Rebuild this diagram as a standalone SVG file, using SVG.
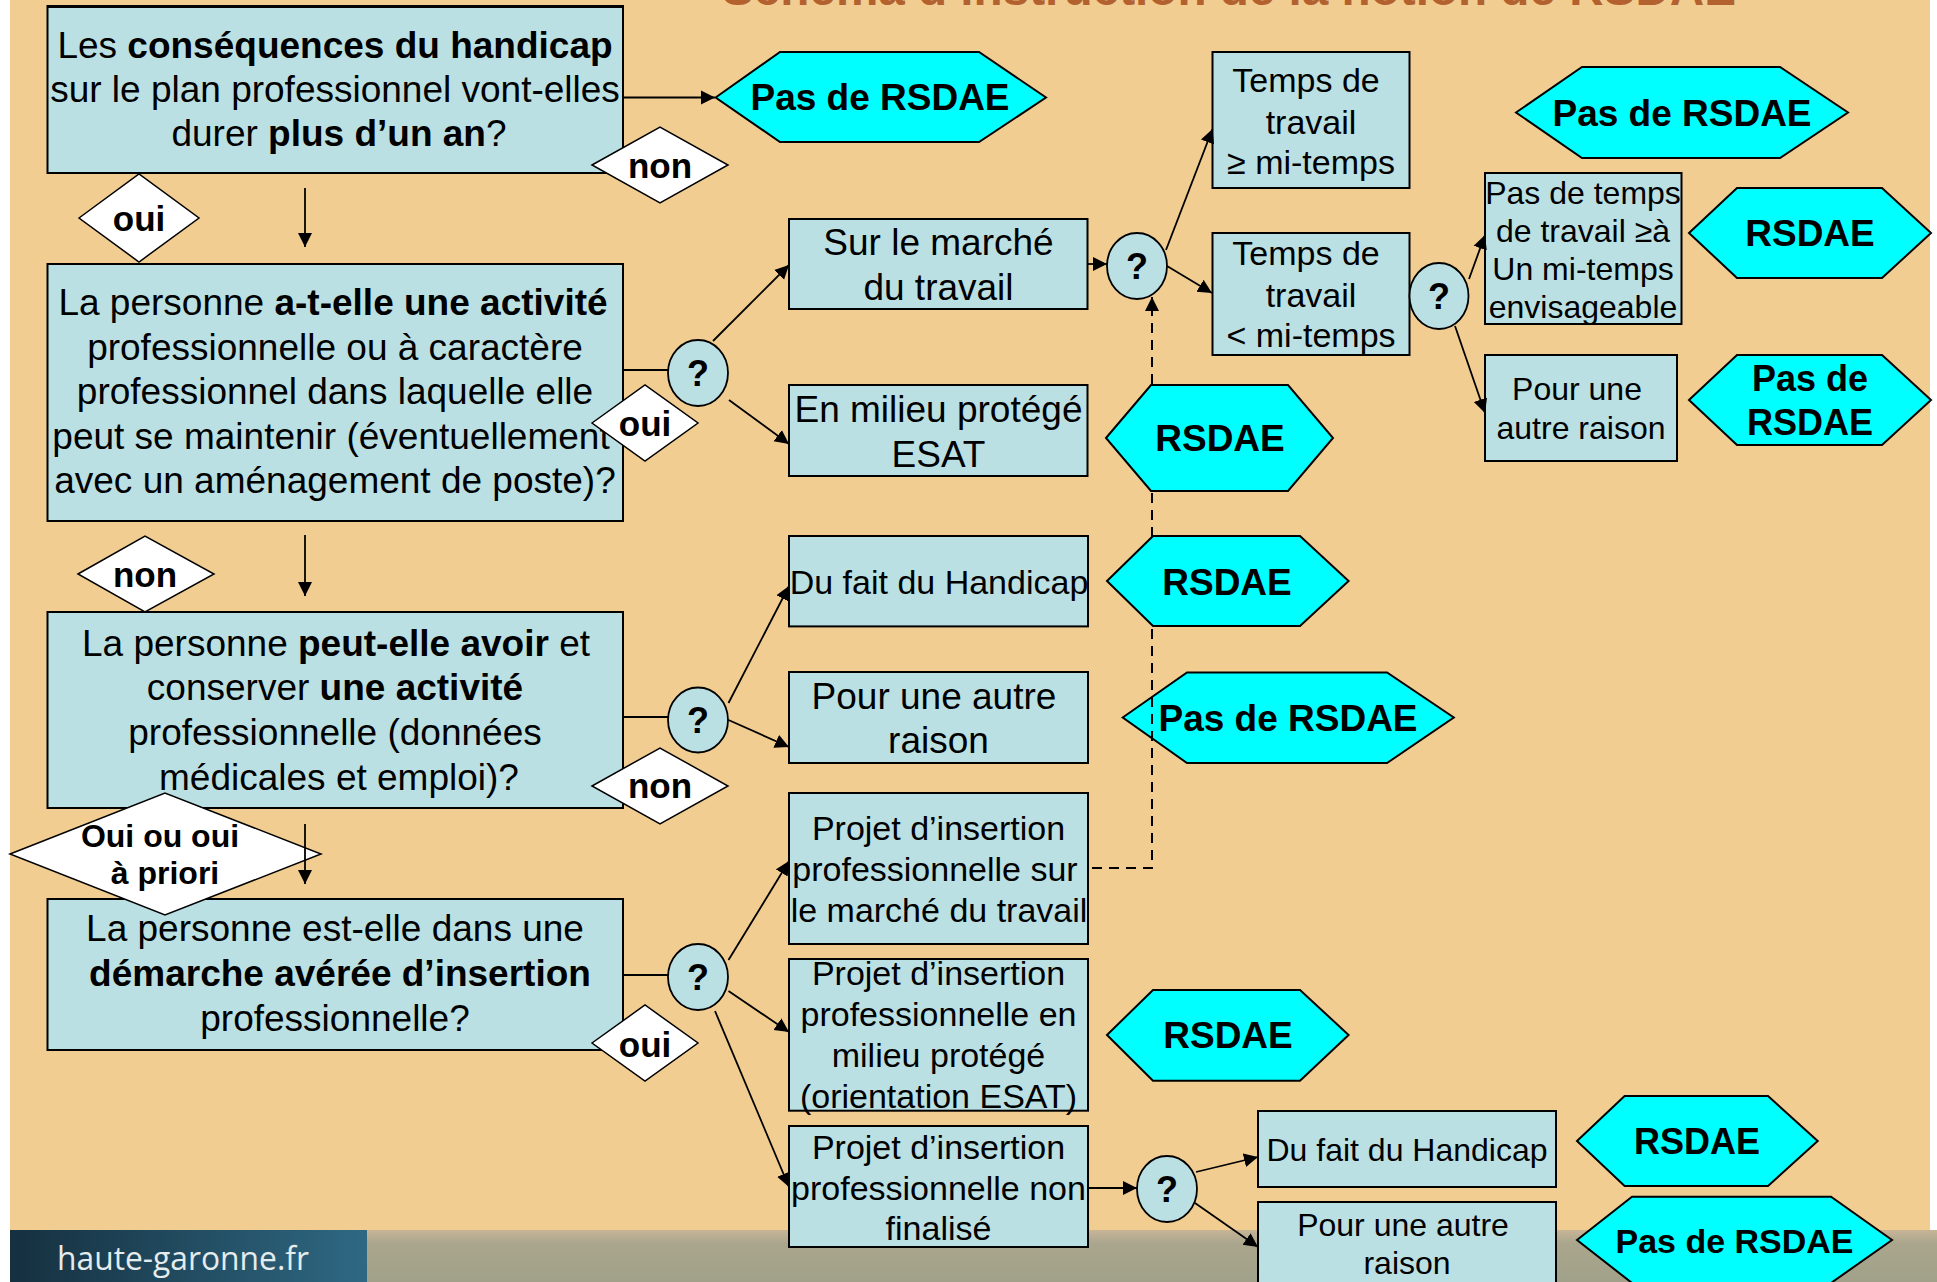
<svg xmlns="http://www.w3.org/2000/svg" width="1937" height="1282" viewBox="0 0 1937 1282">
<defs>
<style>
.bx{fill:#BBE0E3;stroke:#000;stroke-width:2}
.hx{fill:#00FFFF;stroke:#000;stroke-width:2}
.dm{fill:#fff;stroke:#000;stroke-width:1.5}
.ci{fill:#BBE0E3;stroke:#000;stroke-width:1.8}
text{font-family:"Liberation Sans",Arial,sans-serif;fill:#000;text-anchor:middle}
.f37{font-size:37px}
.f34{font-size:34px}
.f32{font-size:32px}
.b{font-weight:bold}
.hb{font-weight:bold;font-size:37px}
.lb{font-weight:bold;font-size:35px}
.q{font-weight:bold;font-size:36px}
.ln{fill:none;stroke:#000;stroke-width:1.8}
.ar{marker-end:url(#ah)}
.ds{fill:none;stroke:#000;stroke-width:2;stroke-dasharray:10 7}
</style>
<marker id="ah" markerUnits="userSpaceOnUse" markerWidth="16" markerHeight="16" refX="14" refY="7.5" orient="auto">
<path d="M0,0.5 L14,7.5 L0,14.5 z" fill="#000"/>
</marker>
<linearGradient id="band" x1="0" y1="0" x2="0" y2="1">
<stop offset="0" stop-color="#C8B597"/>
<stop offset="0.25" stop-color="#AAA68D"/>
<stop offset="1" stop-color="#A1A189"/>
</linearGradient>
<linearGradient id="logo" x1="0" y1="0" x2="1" y2="0">
<stop offset="0" stop-color="#15303F"/>
<stop offset="1" stop-color="#2F6883"/>
</linearGradient>
</defs>

<g id="background">
<rect x="0" y="0" width="1937" height="1282" fill="#F2CD92"/>
<rect x="0" y="0" width="10" height="1282" fill="#fff"/>
<rect x="1930" y="0" width="7" height="1230" fill="#fff"/>
<rect x="367" y="1230" width="1570" height="52" fill="url(#band)"/>
<rect x="10" y="1230" width="357" height="52" fill="url(#logo)"/>
<text x="183" y="1270" style="font-family:'Open Sans','Liberation Sans',sans-serif;font-size:32px;fill:#E4ECEE" textLength="252" lengthAdjust="spacingAndGlyphs">haute-garonne.fr</text>
<text x="1229" y="5" class="b" style="font-size:48px;fill:#B3622F" textLength="1014" lengthAdjust="spacingAndGlyphs">Schéma d’instruction de la notion de RSDAE</text>
</g>

<g id="box-duree">
<rect class="bx" x="47.5" y="6" width="575.5" height="167"/>
<line x1="47.5" y1="6.5" x2="623" y2="6.5" stroke="#000" stroke-width="3"/>
<text class="f37" x="335" y="58">Les <tspan class="b">conséquences du handicap</tspan></text>
<text class="f37" x="335" y="102">sur le plan professionnel vont-elles</text>
<text class="f37" x="339" y="146">durer <tspan class="b">plus d’un an</tspan>?</text>
</g>

<g id="box-activite">
<rect class="bx" x="47.5" y="264" width="575.5" height="257"/>
<text class="f37" x="333" y="315">La personne <tspan class="b">a-t-elle une activité</tspan></text>
<text class="f37" x="335" y="360">professionnelle ou à caractère</text>
<text class="f37" x="335" y="404">professionnel dans laquelle elle</text>
<text class="f37" x="331" y="449">peut se maintenir (éventuellement</text>
<text class="f37" x="335" y="493">avec un aménagement de poste)?</text>
</g>

<g id="box-peut">
<rect class="bx" x="47.5" y="612" width="575.5" height="196"/>
<text class="f37" x="336" y="656">La personne <tspan class="b">peut-elle avoir</tspan> et</text>
<text class="f37" x="335" y="700">conserver <tspan class="b">une activité</tspan></text>
<text class="f37" x="335" y="745">professionnelle (données</text>
<text class="f37" x="339" y="790">médicales et emploi)?</text>
</g>

<g id="box-demarche">
<rect class="bx" x="47.5" y="899" width="575.5" height="151"/>
<text class="f37" x="335" y="941">La personne est-elle dans une</text>
<text class="f37 b" x="340" y="986">démarche avérée d’insertion</text>
<text class="f37" x="335" y="1031">professionnelle?</text>
</g>

<g id="box-marche">
<rect class="bx" x="789" y="219" width="298.5" height="90"/>
<text class="f37" x="938.5" y="255">Sur le marché</text>
<text class="f37" x="938.5" y="300">du travail</text>
</g>

<g id="box-esat">
<rect class="bx" x="789" y="385" width="298.5" height="91"/>
<text class="f37" x="938.5" y="422">En milieu protégé</text>
<text class="f37" x="938.5" y="467">ESAT</text>
</g>

<g id="box-handicap-1">
<rect class="bx" x="789" y="536" width="299" height="90.4"/>
<text class="f34" x="939" y="594">Du fait du Handicap</text>
</g>

<g id="box-autre-1">
<rect class="bx" x="789" y="672" width="299" height="91"/>
<text class="f37" x="934" y="709">Pour une autre</text>
<text class="f37" x="938.5" y="753">raison</text>
</g>

<g id="box-projet-marche">
<rect class="bx" x="789" y="793" width="299" height="151"/>
<text class="f34" x="938.5" y="840">Projet d’insertion</text>
<text class="f34" x="935" y="881">professionnelle sur</text>
<text class="f34" x="939" y="922">le marché du travail</text>
</g>

<g id="box-projet-esat">
<rect class="bx" x="789" y="959" width="299" height="151.7"/>
<text class="f34" x="938.5" y="985">Projet d’insertion</text>
<text class="f34" x="938.5" y="1026">professionnelle en</text>
<text class="f34" x="938.5" y="1067">milieu protégé</text>
<text class="f34" x="938.5" y="1108">(orientation ESAT)</text>
</g>

<g id="box-projet-non">
<rect class="bx" x="789" y="1126" width="299" height="121"/>
<text class="f34" x="938.5" y="1159">Projet d’insertion</text>
<text class="f34" x="938.5" y="1200">professionnelle non</text>
<text class="f34" x="938.5" y="1240">finalisé</text>
</g>

<g id="box-temps-plus">
<rect class="bx" x="1212.5" y="52" width="197" height="136"/>
<text class="f34" x="1306" y="92">Temps de</text>
<text class="f34" x="1311" y="134">travail</text>
<text class="f34" x="1311" y="174">≥ mi-temps</text>
</g>

<g id="box-temps-moins">
<rect class="bx" x="1212.5" y="233" width="197" height="122"/>
<text class="f34" x="1306" y="265">Temps de</text>
<text class="f34" x="1311" y="307">travail</text>
<text class="f34" x="1311" y="347">&lt; mi-temps</text>
</g>

<g id="box-pas-temps">
<rect class="bx" x="1485" y="173" width="196.5" height="151"/>
<text class="f32" x="1583" y="204">Pas de temps</text>
<text class="f32" x="1583" y="242">de travail ≥à</text>
<text class="f32" x="1583" y="280">Un mi-temps</text>
<text class="f32" x="1583" y="318">envisageable</text>
</g>

<g id="box-autre-2">
<rect class="bx" x="1485" y="355" width="192" height="106"/>
<text class="f32" x="1577" y="400">Pour une</text>
<text class="f32" x="1581" y="439">autre raison</text>
</g>

<g id="box-handicap-2">
<rect class="bx" x="1258" y="1111" width="298" height="76"/>
<text class="f32" x="1407" y="1161">Du fait du Handicap</text>
</g>

<g id="box-autre-3">
<rect class="bx" x="1258" y="1202" width="298" height="92"/>
<text class="f32" x="1403" y="1236">Pour une autre</text>
<text class="f32" x="1407" y="1274">raison</text>
</g>

<g id="hex-pas-1">
<polygon class="hx" points="715.6,97.5 780,52 979,52 1046,97.5 979,142 780,142"/>
<text class="hb" x="880" y="110">Pas de RSDAE</text>
</g>
<g id="hex-pas-2">
<polygon class="hx" points="1516,112.5 1582,67 1780,67 1848,112.5 1780,158 1582,158"/>
<text class="hb" x="1682" y="126">Pas de RSDAE</text>
</g>
<g id="hex-rsdae-3">
<polygon class="hx" points="1689,233 1737,188 1882,188 1931,233 1882,278 1737,278"/>
<text class="hb" x="1810" y="246">RSDAE</text>
</g>
<g id="hex-pas-3">
<polygon class="hx" points="1689,400 1737,355 1882,355 1931,400 1882,445 1737,445"/>
<text class="b" style="font-size:36px" x="1810" y="391">Pas de</text>
<text class="b" style="font-size:36px" x="1810" y="435">RSDAE</text>
</g>
<g id="hex-pas-4">
<polygon class="hx" points="1122.7,717.5 1187,672.5 1387,672.5 1453.8,717.5 1387,763 1187,763"/>
<text class="hb" x="1288" y="731">Pas de RSDAE</text>
</g>
<g id="hex-rsdae-4">
<polygon class="hx" points="1107,1035 1153,990 1300,990 1348.6,1035 1300,1080.7 1153,1080.7"/>
<text class="hb" x="1228" y="1048">RSDAE</text>
</g>
<g id="hex-rsdae-5">
<polygon class="hx" points="1577,1141 1624.6,1096 1768,1096 1817.7,1141 1768,1186 1624.6,1186"/>
<text class="b" style="font-size:36px" x="1697" y="1154">RSDAE</text>
</g>
<g id="hex-pas-5">
<polygon class="hx" points="1577,1240 1632,1196.7 1831,1196.7 1892,1240 1831,1283 1632,1283"/>
<text class="b" style="font-size:34px" x="1734.5" y="1253">Pas de RSDAE</text>
</g>

<g id="q-activite"><ellipse class="ci" cx="698" cy="373" rx="30" ry="33"/><text class="q" x="698" y="386">?</text></g>
<g id="q-peut"><ellipse class="ci" cx="698" cy="720" rx="30" ry="32.5"/><text class="q" x="698" y="733">?</text></g>
<g id="q-demarche"><ellipse class="ci" cx="698" cy="977" rx="30" ry="33"/><text class="q" x="698" y="990">?</text></g>
<g id="q-marche"><ellipse class="ci" cx="1137" cy="266" rx="30" ry="33"/><text class="q" x="1137" y="279">?</text></g>
<g id="q-temps"><ellipse class="ci" cx="1439" cy="296" rx="29.5" ry="33"/><text class="q" x="1439" y="309">?</text></g>
<g id="q-non-finalise"><ellipse class="ci" cx="1167" cy="1189" rx="30" ry="33"/><text class="q" x="1167" y="1202">?</text></g>

<g id="lbl-non-1"><polygon class="dm" points="592,165 660,127 728,165 660,203"/><text class="lb" x="660" y="178">non</text></g>
<g id="lbl-oui-1"><polygon class="dm" points="79,218 139,174 199,218 139,262"/><text class="lb" x="139" y="231">oui</text></g>
<g id="lbl-oui-2"><polygon class="dm" points="592,423 645,385 698,423 645,461"/><text class="lb" x="645" y="436">oui</text></g>
<g id="lbl-non-2"><polygon class="dm" points="78,574 145,536 214,574 145,612"/><text class="lb" x="145" y="587">non</text></g>
<g id="lbl-non-3"><polygon class="dm" points="592,786 660,748 728,786 660,824"/><text class="lb" x="660" y="798">non</text></g>
<g id="lbl-oui-priori"><polygon class="dm" points="10,854 165,793 321,854 165,915"/><text class="b" style="font-size:32px" x="160" y="847">Oui ou oui</text><text class="b" style="font-size:32px" x="165" y="884">à priori</text></g>
<g id="lbl-oui-3"><polygon class="dm" points="592,1043 645,1005 698,1043 645,1081"/><text class="lb" x="645" y="1057">oui</text></g>

<g id="connectors">
<line class="ln ar" x1="623" y1="97.5" x2="715" y2="97.5"/>
<line class="ln ar" x1="305" y1="188" x2="305" y2="247"/>
<line class="ln" x1="623" y1="370" x2="668" y2="370"/>
<line class="ln ar" x1="713" y1="341" x2="789" y2="265"/>
<line class="ln ar" x1="729" y1="400" x2="789" y2="444"/>
<line class="ln ar" x1="305" y1="535" x2="305" y2="596"/>
<line class="ln" x1="623" y1="717" x2="668" y2="717"/>
<line class="ln ar" x1="728.5" y1="703" x2="789" y2="586"/>
<line class="ln ar" x1="728.5" y1="720" x2="789" y2="747"/>
<line class="ln ar" x1="305" y1="824" x2="305" y2="884"/>
<line class="ln" x1="623" y1="975" x2="668" y2="975"/>
<line class="ln ar" x1="728.5" y1="960" x2="789" y2="861"/>
<line class="ln ar" x1="728.5" y1="991" x2="789" y2="1032"/>
<line class="ln ar" x1="715" y1="1011" x2="789" y2="1187"/>
<line class="ln ar" x1="1088" y1="264" x2="1107" y2="264"/>
<line class="ln ar" x1="1166" y1="250" x2="1212.5" y2="129"/>
<line class="ln ar" x1="1167" y1="266" x2="1212" y2="293"/>
<polyline class="ds ar" points="1092,868 1152,868 1152,297"/>
<line class="ln ar" x1="1469" y1="279" x2="1485" y2="235"/>
<line class="ln ar" x1="1455" y1="326" x2="1485" y2="413"/>
<line class="ln ar" x1="1088" y1="1188" x2="1137" y2="1188"/>
<line class="ln ar" x1="1196" y1="1172" x2="1258" y2="1157"/>
<line class="ln ar" x1="1195" y1="1203" x2="1258" y2="1247"/>
</g>

<g id="hex-rsdae-1">
<polygon class="hx" points="1106,438 1151,385 1288,385 1333,438 1288,491 1151,491"/>
<text class="hb" x="1220" y="451">RSDAE</text>
</g>
<g id="hex-rsdae-2">
<polygon class="hx" points="1107,581 1153,536 1300,536 1348.6,581 1300,626 1153,626"/>
<text class="hb" x="1227" y="595">RSDAE</text>
</g>
</svg>
